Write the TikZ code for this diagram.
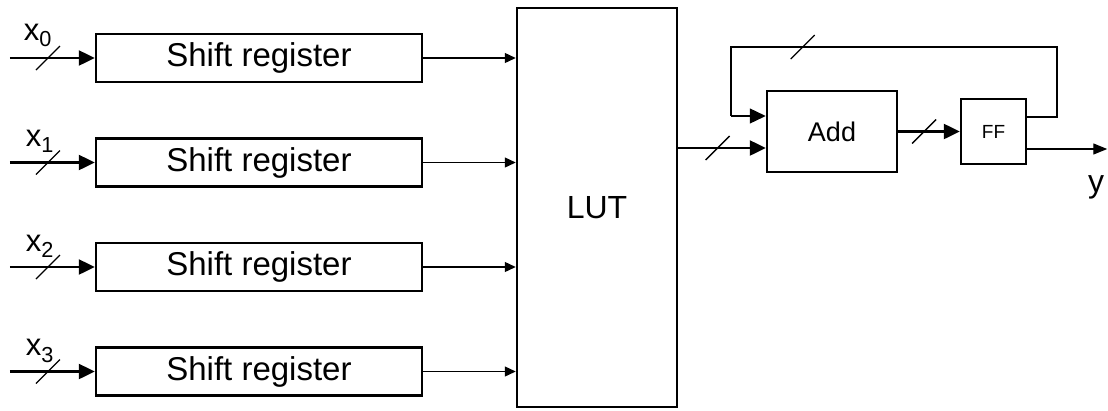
\documentclass[tikz,border=0pt]{standalone}
\usepackage{fontspec}
\setmainfont{Liberation Sans}
\usetikzlibrary{arrows.meta,positioning}

\begin{document}
\begin{tikzpicture}[
x=1pt, y=-1pt,
node distance=54pt,
box/.style={draw, line width=2.5pt, inner sep=2pt, minimum width=326pt, minimum height=48pt, font=\fontsize{33}{33}\selectfont},
arr/.style={-{Triangle[length=16pt,width=15pt]}, line width=2.5pt},
thinarr/.style={-{Triangle[length=11pt,width=10pt]}, line width=1.3pt},
bus/.style={line width=2.5pt},
tag/.style={inner sep=0pt, font=\fontsize{31}{31}\selectfont},
slash/.pic={\draw[-, line width=1.3pt] (-12pt,-12pt) -- (12pt,12pt);}
]
\useasboundingbox (0,0) rectangle (1108,410);
\node[box] (sr0) at (259,58) {Shift register};
\node[box, below=of sr0] (sr1) {Shift register};
\node[box, below=of sr1] (sr2) {Shift register};
\node[box, below=of sr2] (sr3) {Shift register};
\node[box, minimum width=160pt, minimum height=399pt, font=\fontsize{32}{32}\selectfont] (lut) at (597,207.5) {LUT};
\node[box, minimum width=130pt, minimum height=81pt, font=\fontsize{27}{27}\selectfont] (add) at (832,131.5) {Add};
\node[box, minimum width=65pt, minimum height=65pt, font=\fontsize{19}{19}\selectfont, right=61.5pt of add] (ff) {FF};
\coordinate (in0) at ([xshift=-85pt]sr0.west);
\coordinate (in1) at ([xshift=-85pt]sr1.west);
\coordinate (in2) at ([xshift=-85pt]sr2.west);
\coordinate (in3) at ([xshift=-85pt]sr3.west);
\node[tag, anchor=base west] (lx0) at ([shift={(14pt,18pt)}]in0) {x\textsubscript{0}};
\node[tag, anchor=base west] (lx1) at ([shift={(16pt,16pt)}]in1) {x\textsubscript{1}};
\node[tag, anchor=base west] (lx2) at ([shift={(16pt,16pt)}]in2) {x\textsubscript{2}};
\node[tag, anchor=base west] (lx3) at ([shift={(16pt,16pt)}]in3) {x\textsubscript{3}};
\draw[arr] (in0) -- pic[pos=.45]{slash} (sr0);
\draw[arr] (in1) -- pic[pos=.45]{slash} (sr1);
\draw[arr] (in2) -- pic[pos=.45]{slash} (sr2);
\draw[arr] (in3) -- pic[pos=.45]{slash} (sr3);
\draw[thinarr] (sr0) -- (sr0 -| lut.west);
\draw[thinarr] (sr1) -- (sr1 -| lut.west);
\draw[thinarr] (sr2) -- (sr2 -| lut.west);
\draw[thinarr] (sr3) -- (sr3 -| lut.west);
% adder and flip-flop loop
\coordinate (addA) at ([yshift=15.5pt]add.west);
\coordinate (addB) at ([yshift=-16.5pt]add.west);
\coordinate (ffA) at ([yshift=14.5pt]ff.east);
\coordinate (ffB) at ([yshift=-17.5pt]ff.east);
\coordinate (loopR) at (1057,47);
\coordinate (loopL) at (731,47);
\draw[arr] (addB -| lut.east) -- pic[pos=.45]{slash} (addB);
\draw[arr] (add) -- pic[pos=.42]{slash} (ff);
\draw[bus] (ffA) -| (loopR) -- pic[pos=.78]{slash} (loopL) -- (loopL |- addA);
\draw[arr, line width=1.3pt] (loopL |- addA) -- (addA);
\coordinate (yend) at ([xshift=80pt]ffB);
\draw[-{Triangle[length=14pt,width=11pt]}, line width=1.3pt] (ffB) -- (yend);
\node[tag, font=\fontsize{32}{32}\selectfont, anchor=base] (ylbl) at (1096,192) {y};
\end{tikzpicture}
\end{document}
